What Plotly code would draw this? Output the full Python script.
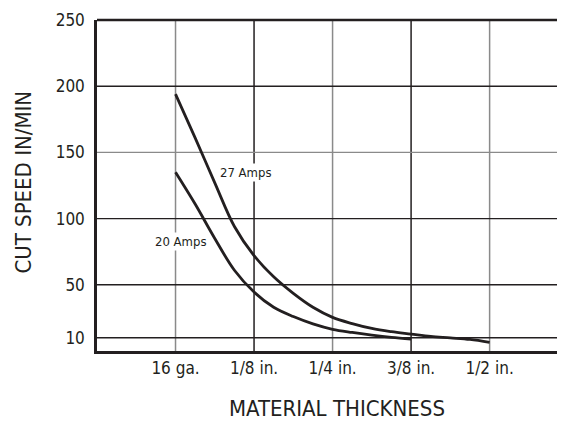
import plotly.graph_objects as go

# Data
thickness_labels = ["16 ga.", "1/8 in.", "1/4 in.", "3/8 in.", "1/2 in."]
thickness_pos = [0, 1, 2, 3, 4]
y_ticks = [10, 50, 100, 150, 200, 250]

amps27_x = [0, 0.25, 0.5, 0.75, 1, 1.25, 1.5, 1.75, 2, 2.25, 2.5, 2.75, 3, 3.25, 3.5, 3.75, 4]
amps27_y = [194, 161, 127, 94, 72, 56, 43.5, 33, 25.4, 20.7, 17, 14.6, 12.8, 11, 9.9, 8.7, 6.5]

amps20_x = [0, 0.25, 0.5, 0.75, 1, 1.25, 1.5, 1.75, 2, 2.25, 2.5, 2.75, 3]
amps20_y = [135, 111, 85, 61, 44.5, 33, 26, 20.5, 16.4, 14, 12, 10.3, 9]

FONT = "DejaVu Sans Condensed, Liberation Sans Narrow, Roboto, sans-serif"
INK = "#231f20"
GRAY = "#8a8a8a"

fig = go.Figure()
fig.add_trace(go.Scatter(x=amps27_x, y=amps27_y, mode="lines", name="27 Amps",
                         line=dict(color=INK, width=2.8, shape="spline", smoothing=1)))
fig.add_trace(go.Scatter(x=amps20_x, y=amps20_y, mode="lines", name="20 Amps",
                         line=dict(color=INK, width=2.8, shape="spline", smoothing=1)))

v_colors = [GRAY, INK, GRAY, INK, GRAY]
h_colors = [INK, INK, INK, GRAY, INK, INK]
shapes = []
for p, c in zip(thickness_pos, v_colors):
    shapes.append(dict(type="line", xref="x", yref="paper", x0=p, x1=p, y0=0, y1=1,
                       line=dict(color=c, width=1.5), layer="below"))
for v, c in zip(y_ticks, h_colors):
    shapes.append(dict(type="line", xref="paper", yref="y", x0=0, x1=1, y0=v, y1=v,
                       line=dict(color=c, width=1.4), layer="below"))
# top frame line
shapes.append(dict(type="line", xref="paper", yref="paper", x0=0, x1=1, y0=1, y1=1,
                   line=dict(color=INK, width=2.5)))

fig.update_layout(
    width=557, height=413,
    margin=dict(l=89, r=0, t=12, b=70),
    paper_bgcolor="white", plot_bgcolor="white",
    showlegend=False,
    font=dict(family=FONT, color=INK),
    shapes=shapes,
    xaxis=dict(range=[-1, 4.96], tickvals=thickness_pos, ticktext=thickness_labels,
               showgrid=False, zeroline=False, showline=True, linecolor=INK, linewidth=2.5,
               ticks="", tickfont=dict(size=17, family=FONT, color=INK), ticklabelstandoff=0),
    yaxis=dict(range=[0, 250], tickvals=y_ticks, showgrid=False,
               zeroline=False, showline=True, linecolor=INK, linewidth=2.5,
               ticks="", tickfont=dict(size=17, family=FONT, color=INK), ticklabelstandoff=6),
    annotations=[
        dict(x=0.9, y=135, xref="x", yref="y", text="27 Amps", showarrow=False,
             font=dict(size=13, family=FONT, color=INK), bgcolor="white"),
        dict(x=0.07, y=83, xref="x", yref="y", text="20 Amps", showarrow=False,
             font=dict(size=13, family=FONT, color=INK), bgcolor="white"),
        dict(x=0.513, y=-0.175, xref="paper", yref="paper", text="MATERIAL THICKNESS",
             showarrow=False, font=dict(size=22, family=FONT, color=INK), yanchor="middle"),
        dict(x=-0.158, y=0.509, xref="paper", yref="paper", text="CUT SPEED IN/MIN",
             showarrow=False, textangle=-90, font=dict(size=22, family=FONT, color=INK),
             xanchor="center", yanchor="middle"),
    ],
)

fig.write_html("out.html")
